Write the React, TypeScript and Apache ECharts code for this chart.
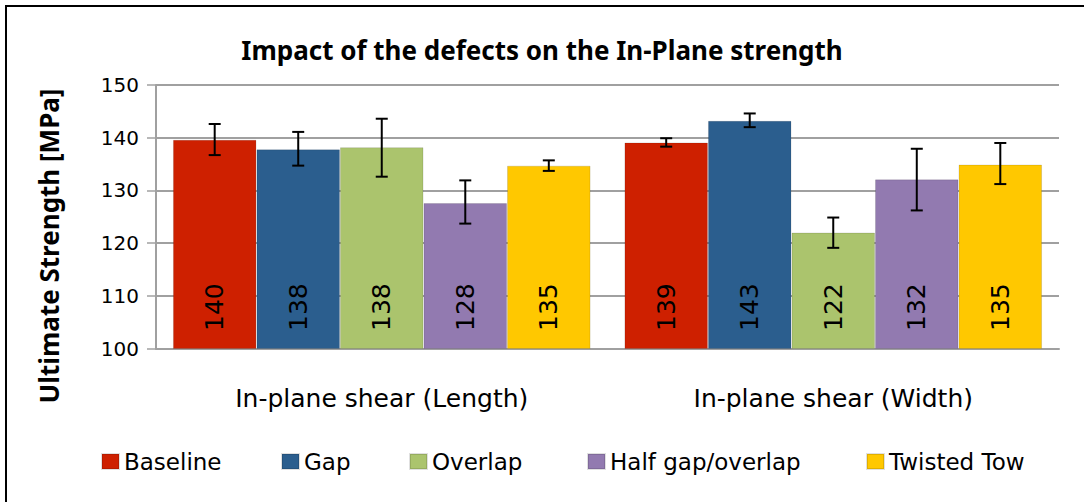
import React, { useEffect, useRef } from "react";
import * as echarts from "echarts";

const categories = ["In-plane shear (Length)", "In-plane shear (Width)"];
const seriesNames = ["Baseline", "Gap", "Overlap", "Half gap/overlap", "Twisted Tow"];
const seriesColors = ["#CE2000", "#2B5E8E", "#ABC46D", "#927AB0", "#FFC800"];

const baselineValues = [139.6, 139.1];
const gapValues = [137.8, 143.2];
const overlapValues = [138.2, 122.0];
const halfGapValues = [127.6, 132.1];
const twistedValues = [134.7, 134.9];

const baselineErr = [[136.7, 142.6], [138.3, 139.9]];
const gapErr = [[134.7, 141.1], [142.0, 144.6]];
const overlapErr = [[132.6, 143.6], [119.1, 124.85]];
const halfGapErr = [[123.7, 131.9], [126.2, 137.9]];
const twistedErr = [[133.7, 135.7], [131.2, 139.0]];

const yTicks = [100, 110, 120, 130, 140, 150];

const allValues = [baselineValues, gapValues, overlapValues, halfGapValues, twistedValues];
const allErr = [baselineErr, gapErr, overlapErr, halfGapErr, twistedErr];

const FONT = "DejaVu Sans";
const BOLD_FONT = "Noto Sans";
const CAT_GAP = 0.075;
const legendLefts = [101, 281, 409, 587, 866];

export default function App() {
  const ref = useRef<HTMLDivElement>(null);
  useEffect(() => {
    document.body.style.margin = "0";
    const chart = echarts.init(ref.current!, null, { renderer: "svg" });
    const errData: number[][] = [];
    allErr.forEach((errs, s) => {
      errs.forEach((e, c) => errData.push([c, e[0], e[1], s]));
    });
    const n = seriesNames.length;
    const option: any = {
      animation: false,
      backgroundColor: "#ffffff",
      textStyle: { fontFamily: FONT },
      title: {
        text: "Impact of the defects on the In-Plane strength",
        left: "center",
        top: 32,
        textStyle: { fontFamily: BOLD_FONT, fontSize: 26, fontWeight: "bold", color: "#000" },
      },
      graphic: [
        {
          type: "rect",
          shape: { x: 6, y: 6, width: 1200, height: 700 },
          style: { fill: "none", stroke: "#000", lineWidth: 2 },
          silent: true,
        },
        {
          type: "text",
          x: 49,
          y: 246,
          rotation: Math.PI / 2,
          style: {
            text: "Ultimate Strength [MPa]",
            fontFamily: BOLD_FONT,
            fontSize: 26,
            fontWeight: "bold",
            fill: "#000",
            align: "center",
            verticalAlign: "middle",
          },
        },
      ],
      legend: seriesNames.map((name, i) => ({
        data: [name],
        left: legendLefts[i],
        top: 450,
        padding: 0,
        itemWidth: 17,
        itemHeight: 15,
        icon: "rect",
        textStyle: { fontFamily: FONT, fontSize: 23, color: "#000" },
      })),
      grid: { left: 156, right: 25, top: 85, bottom: 153.5 },
      xAxis: {
        type: "category",
        data: categories,
        axisLine: { show: true, lineStyle: { color: "#A0A0A0", width: 2 } },
        axisTick: { show: false },
        axisLabel: { fontFamily: FONT, fontSize: 25, color: "#000", margin: 37 },
      },
      yAxis: {
        type: "value",
        min: yTicks[0],
        max: yTicks[yTicks.length - 1],
        interval: 10,
        axisLine: { show: true, lineStyle: { color: "#A0A0A0", width: 2 } },
        axisTick: { show: true, length: 9, lineStyle: { color: "#A0A0A0", width: 1.5 } },
        axisLabel: { fontFamily: FONT, fontSize: 20, color: "#000", margin: 17 },
        splitLine: { show: true, lineStyle: { color: "#A0A0A0", width: 2 } },
      },
      series: [
        ...seriesNames.map((name, i) => ({
          name,
          type: "bar",
          data: allValues[i],
          barGap: "0%",
          barCategoryGap: CAT_GAP * 100 + "%",
          itemStyle: { color: seriesColors[i], borderColor: "rgba(0,0,0,0.12)", borderWidth: 1 },
          label: {
            show: true,
            position: "insideBottom",
            rotate: 90,
            align: "left",
            verticalAlign: "middle",
            distance: 18,
            fontFamily: FONT,
            fontSize: 25,
            color: "#000",
            formatter: (p: any) => String(Math.round(p.value)),
          },
        })),
        {
          type: "custom",
          name: "errors",
          data: errData,
          z: 10,
          renderItem: (params: any, api: any) => {
            const c = api.value(0);
            const lo = api.value(1);
            const hi = api.value(2);
            const s = api.value(3);
            const catW = api.size([1, 0])[0];
            const barW = (catW * (1 - CAT_GAP)) / n;
            const pLo = api.coord([c, lo]);
            const pHi = api.coord([c, hi]);
            const x = pLo[0] - (catW * (1 - CAT_GAP)) / 2 + barW * (s + 0.5);
            const cap = 6;
            const st = { stroke: "#000", lineWidth: 2 };
            return {
              type: "group",
              children: [
                { type: "line", shape: { x1: x, y1: pLo[1], x2: x, y2: pHi[1] }, style: st },
                { type: "line", shape: { x1: x - cap, y1: pLo[1], x2: x + cap, y2: pLo[1] }, style: st },
                { type: "line", shape: { x1: x - cap, y1: pHi[1], x2: x + cap, y2: pHi[1] }, style: st },
              ],
            };
          },
        },
      ],
    };
    chart.setOption(option);
    return () => chart.dispose();
  }, []);
  return <div ref={ref} style={{ width: 1084, height: 502 }} />;
}
